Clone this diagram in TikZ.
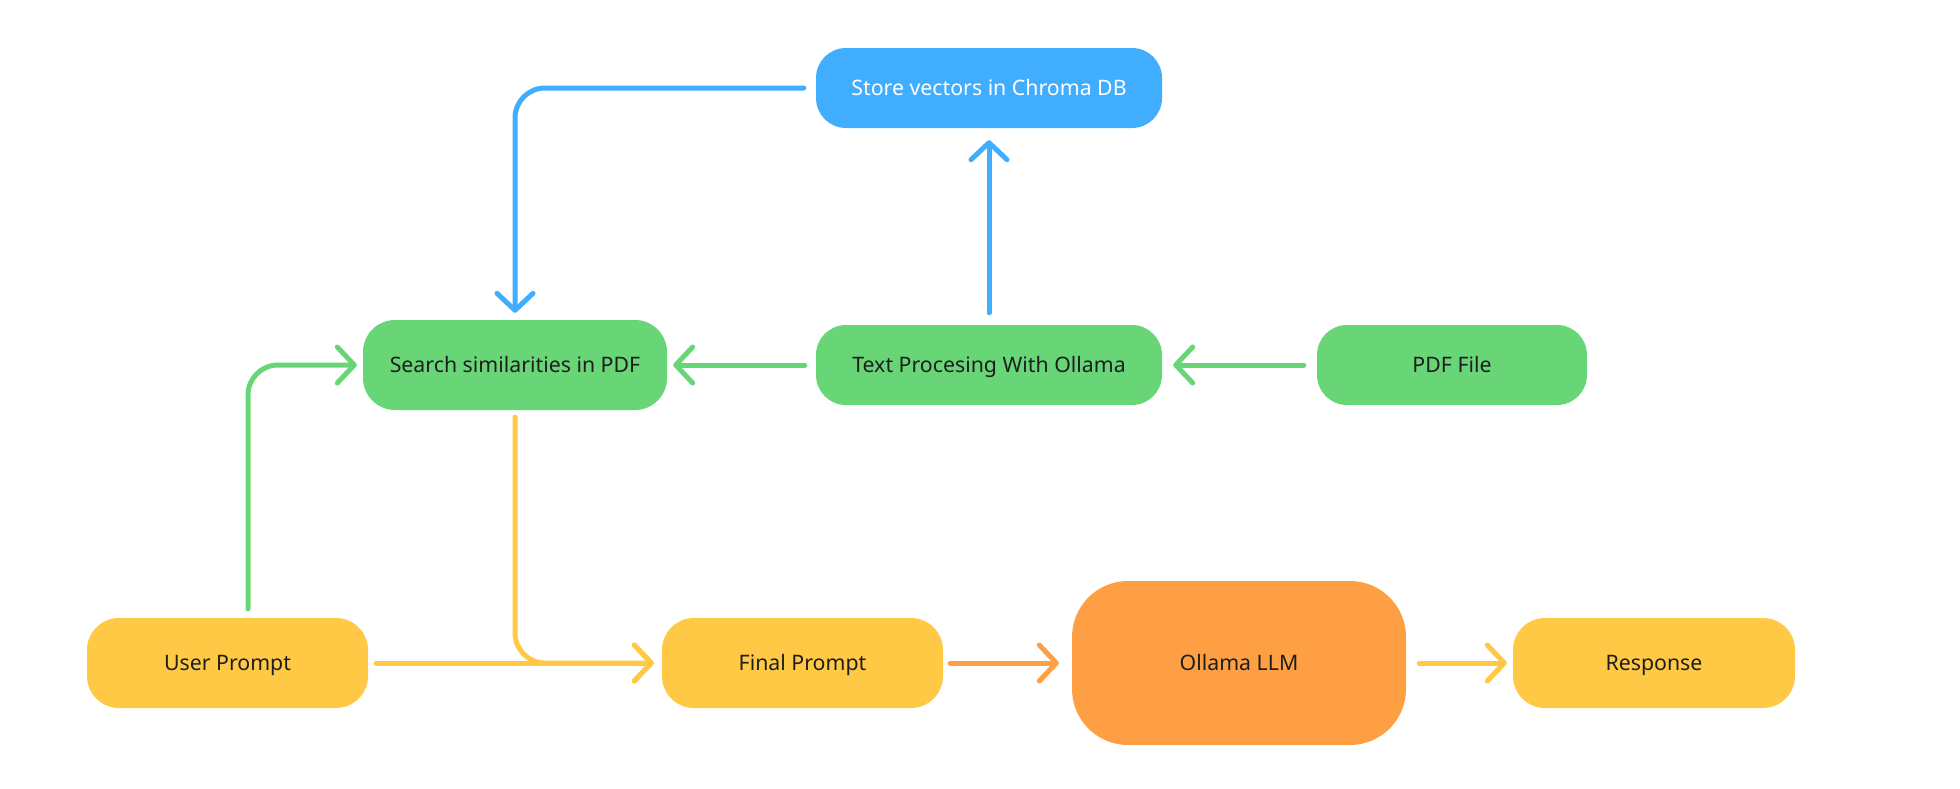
\documentclass[tikz,border=0pt]{standalone}
\usepackage{fontspec}
\setmainfont{Noto Sans}
\usetikzlibrary{arrows.meta}
\definecolor{cblue}{HTML}{40ADFF}
\definecolor{cgreen}{HTML}{68D677}
\definecolor{cyellow}{HTML}{FFC845}
\definecolor{corange}{HTML}{FF9F43}
\definecolor{ctext}{HTML}{1E1E1E}
\tikzset{
  box/.style={rectangle, rounded corners=32pt, inner sep=0pt, text=ctext,
    text height=15pt, text depth=0pt,
    font=\fontsize{21.3pt}{25pt}\selectfont},
  conn/.style={line width=5pt, line cap=round, line join=round,
    -{Straight Barb[length=17pt, width=36pt, round]}},
}
\begin{document}
\begin{tikzpicture}[x=1pt, y=-1pt]
\useasboundingbox (0,0) rectangle (1960,788);
\node[box, fill=cblue, text=white, minimum width=346pt, minimum height=80pt, rounded corners=30pt] (store) at (989,88) {Store vectors in Chroma DB};
\node[box, fill=cgreen, minimum width=304pt, minimum height=90pt] (search) at (515,365) {Search similarities in PDF};
\node[box, fill=cgreen, minimum width=346pt, minimum height=80pt, rounded corners=30pt] (text) at (989,365) {Text Procesing With Ollama};
\node[box, fill=cgreen, minimum width=270pt, minimum height=80pt, rounded corners=30pt] (pdf) at (1452,365) {PDF File};
\node[box, fill=cyellow, minimum width=281pt, minimum height=90pt] (user) at (227.5,663) {User Prompt};
\node[box, fill=cyellow, minimum width=281pt, minimum height=90pt] (final) at (802.5,663) {Final Prompt};
\node[box, fill=corange, minimum width=334pt, minimum height=164pt, rounded corners=56pt] (llm) at (1239,663) {Ollama LLM};
\node[box, fill=cyellow, minimum width=282pt, minimum height=90pt] (resp) at (1654,663) {Response};

\draw[conn, cblue, rounded corners=30pt] ([xshift=-12pt]store.west) -| ([yshift=7pt]search.north);
\draw[conn, cblue] ([yshift=12pt]text.north) -- ([yshift=-12pt]store.south);
\draw[conn, cgreen] ([xshift=-13pt]pdf.west) -- ([xshift=11pt]text.east);
\draw[conn, cgreen] ([xshift=-11pt]text.west) -- ([xshift=6pt]search.east);
\draw[conn, cgreen, rounded corners=30pt] ([xshift=20.5pt, yshift=9pt]user.north) |- ([xshift=-6pt]search.west);
\draw[conn, cyellow, rounded corners=30pt] ([yshift=-7pt]search.south) |- ([xshift=-8pt]final.west);
\draw[conn, cyellow] ([xshift=8pt]user.east) -- ([xshift=-8pt]final.west);
\draw[conn, corange] ([xshift=7pt]final.east) -- ([xshift=-13pt]llm.west);
\draw[conn, cyellow] ([xshift=13pt]llm.east) -- ([xshift=-6pt]resp.west);
\end{tikzpicture}
\end{document}
